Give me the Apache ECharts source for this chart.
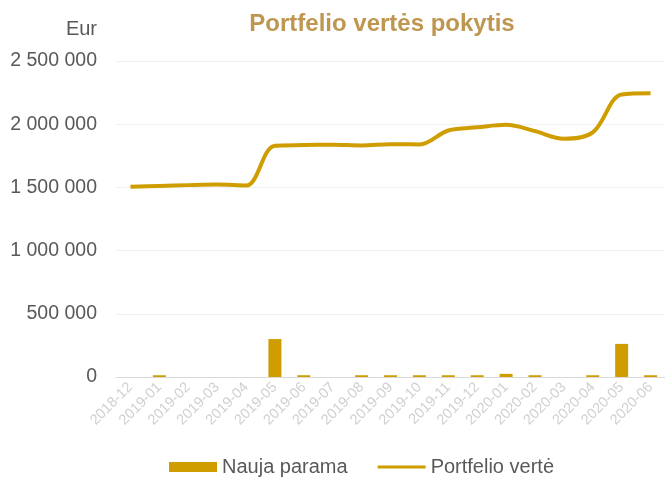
<!DOCTYPE html>
<html>
<head>
<meta charset="utf-8">
<script src="https://cdn.jsdelivr.net/npm/echarts@6/dist/echarts.min.js"></script>
<style>
  body { margin: 0; background: #fff; }
  #chart { width: 665px; height: 477px; }
</style>
</head>
<body>
<div id="chart"></div>
<script>
// menesiai
const months = ['2018-12', '2019-01', '2019-02', '2019-03', '2019-04', '2019-05', '2019-06',
  '2019-07', '2019-08', '2019-09', '2019-10', '2019-11', '2019-12', '2020-01', '2020-02',
  '2020-03', '2020-04', '2020-05', '2020-06'];
// nauja parama
const newFunds = [0, 14000, 0, 0, 0, 300000, 14000, 0, 14000, 14000, 14000, 14000, 14000,
  25000, 14000, 0, 14000, 262000, 14000];
// portfelio verte
const portfolio = [1505000, 1512000, 1518000, 1522000, 1515000, 1830000, 1835000, 1837000,
  1832000, 1842000, 1840000, 1950000, 1975000, 1995000, 1945000, 1885000, 1935000, 2235000, 2245000];

const gold = '#CF9D00';

function fmt(v) {
  return String(v).replace(/\B(?=(\d{3})+(?!\d))/g, ' ');
}

const option = {
  animation: false,
  textStyle: { fontFamily: 'Liberation Sans, Arial, sans-serif' },
  title: {
    text: 'Portfelio vertės pokytis',
    left: 377,
    top: 7,
    textAlign: 'center',
    textStyle: { color: '#BE9650', fontSize: 24, fontWeight: 'bold' }
  },
  legend: {
    top: 452,
    left: 164,
    itemGap: 30,
    itemWidth: 48,
    itemHeight: 10,
    textStyle: { color: '#595959', fontSize: 20 },
    data: [
      { name: 'Nauja parama', icon: 'rect' },
      { name: 'Portfelio vertė', icon: 'path://M0,0 H48 V3 H0 Z' }
    ]
  },
  grid: { left: 116, right: 0, top: 61, bottom: 100 },
  xAxis: {
    type: 'category',
    data: months,
    axisLine: { lineStyle: { color: '#D9D9D9' } },
    axisTick: { lineStyle: { color: '#D9D9D9' } },
    axisLabel: { interval: 0, rotate: 45, color: '#D0D0D0', fontSize: 14.5, margin: 8 }
  },
  yAxis: {
    type: 'value',
    name: 'Eur',
    nameLocation: 'end',
    nameGap: 22,
    nameTextStyle: { color: '#595959', fontSize: 20, align: 'right', padding: [0, 19, 0, 0] },
    min: 0,
    max: 2500000,
    interval: 500000,
    axisLine: { show: false },
    axisTick: { show: false },
    splitLine: { lineStyle: { color: '#F0F0F0' } },
    axisLabel: { color: '#595959', fontSize: 19.5, margin: 19, formatter: fmt }
  },
  series: [
    {
      name: 'Nauja parama',
      type: 'bar',
      data: newFunds.map(v => (v === 0 ? '-' : v)),
      barWidth: 13,
      itemStyle: { color: gold }
    },
    {
      name: 'Portfelio vertė',
      type: 'line',
      data: portfolio,
      smooth: 0.35,
      showSymbol: false,
      symbol: 'none',
      lineStyle: { color: gold, width: 4 },
      itemStyle: { color: gold }
    }
  ]
};

echarts.init(document.getElementById('chart')).setOption(option);
</script>
</body>
</html>
